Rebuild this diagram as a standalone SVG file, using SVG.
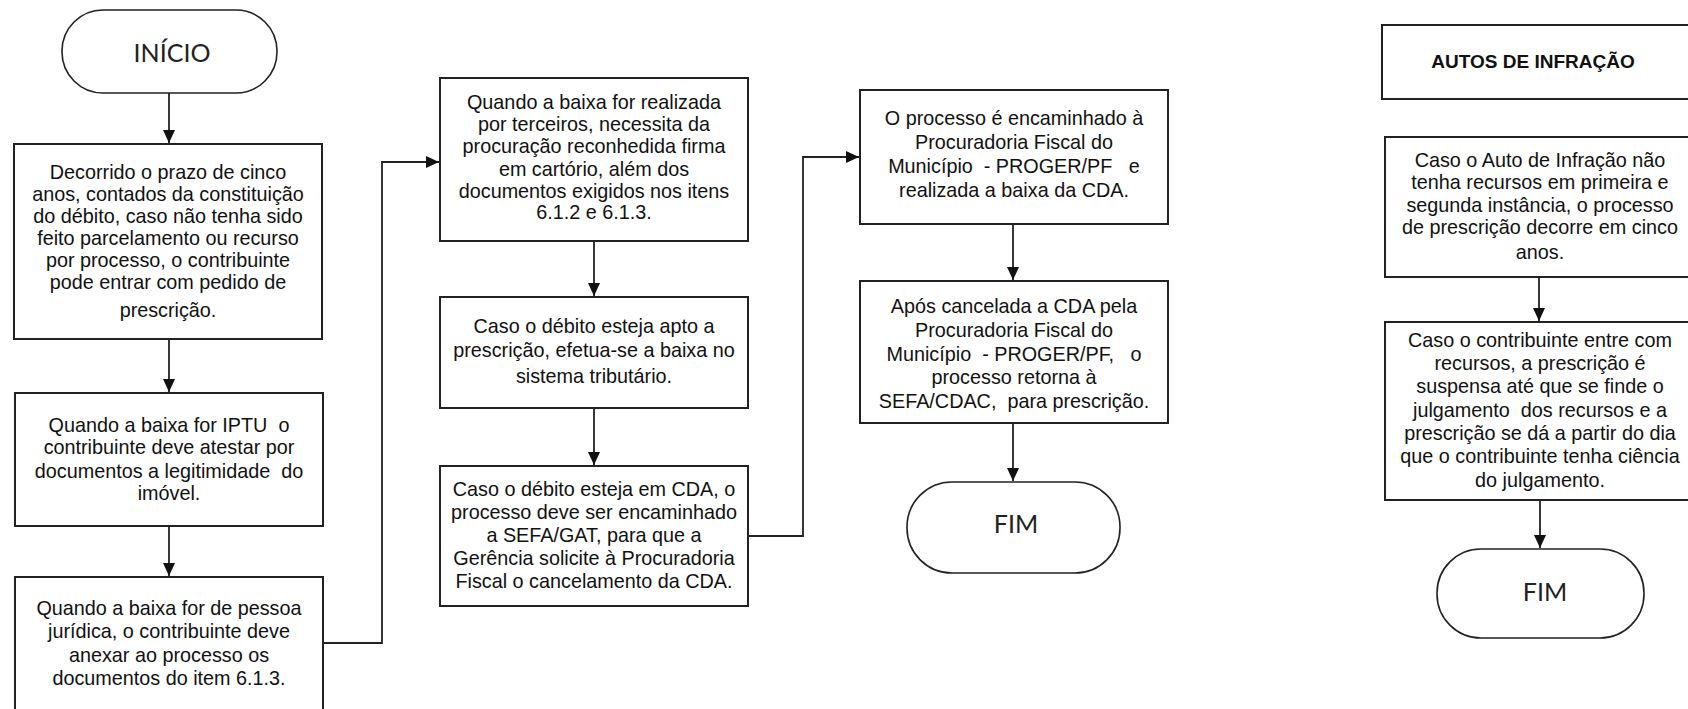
<svg xmlns="http://www.w3.org/2000/svg" width="1688" height="709" viewBox="0 0 1688 709">
<style>
.box{fill:#fff;stroke:#222;stroke-width:2}
.term{fill:#fff;stroke:#222;stroke-width:1.6}
.t{font-family:"Liberation Sans",Arial,sans-serif;font-size:19.8px;fill:#111;text-anchor:middle;white-space:pre}
.tt{font-family:Lato,"Liberation Sans",sans-serif;font-size:25px;fill:#222;text-anchor:middle}
.tb{font-family:"Liberation Sans",Arial,sans-serif;font-size:19px;font-weight:bold;fill:#111;text-anchor:middle}
.c{fill:none;stroke:#222;stroke-width:1.8}
</style>
<defs>
<marker id="ah" markerUnits="userSpaceOnUse" markerWidth="14" markerHeight="14" viewBox="0 0 14 14" refX="13" refY="7" orient="auto">
<path d="M0,1 L13,7 L0,13 Z" fill="#111"/>
</marker>
</defs>
<g id="connectors">
<path class="c" d="M169,93 V143" marker-end="url(#ah)"/>
<path class="c" d="M169,339 V392" marker-end="url(#ah)"/>
<path class="c" d="M169,526 V576" marker-end="url(#ah)"/>
<path class="c" d="M323,643 H382 V162 H439" marker-end="url(#ah)"/>
<path class="c" d="M594,241 V296" marker-end="url(#ah)"/>
<path class="c" d="M594,408 V465" marker-end="url(#ah)"/>
<path class="c" d="M748,536 H803 V157 H859" marker-end="url(#ah)"/>
<path class="c" d="M1013,224 V280" marker-end="url(#ah)"/>
<path class="c" d="M1013,423 V481" marker-end="url(#ah)"/>
<path class="c" d="M1539,277 V321" marker-end="url(#ah)"/>
<path class="c" d="M1540,500 V548" marker-end="url(#ah)"/>
</g>
<g id="inicio">
<rect class="term" x="62" y="10" width="215" height="83" rx="41" ry="41"/>
<text class="tt" x="172" y="62">INÍCIO</text>
</g>
<g id="box1">
<rect class="box" x="14" y="144" width="308" height="195"/>
<text class="t" x="168" y="179">Decorrido o prazo de cinco</text>
<text class="t" x="168" y="201">anos, contados da constituição</text>
<text class="t" x="168" y="223">do débito, caso não tenha sido</text>
<text class="t" x="168" y="245">feito parcelamento ou recurso</text>
<text class="t" x="168" y="267">por processo, o contribuinte</text>
<text class="t" x="168" y="289">pode entrar com pedido de</text>
<text class="t" x="168" y="317">prescrição.</text>
</g>
<g id="box2">
<rect class="box" x="15" y="393" width="308" height="133"/>
<text class="t" x="169" y="432">Quando a baixa for IPTU  o</text>
<text class="t" x="169" y="454">contribuinte deve atestar por</text>
<text class="t" x="169" y="478">documentos a legitimidade  do</text>
<text class="t" x="169" y="500">imóvel.</text>
</g>
<g id="box3">
<rect class="box" x="15" y="577" width="308" height="140"/>
<text class="t" x="169" y="615">Quando a baixa for de pessoa</text>
<text class="t" x="169" y="638">jurídica, o contribuinte deve</text>
<text class="t" x="169" y="662">anexar ao processo os</text>
<text class="t" x="169" y="685">documentos do item 6.1.3.</text>
</g>
<g id="box4">
<rect class="box" x="440" y="78" width="308" height="163"/>
<text class="t" x="594" y="109">Quando a baixa for realizada</text>
<text class="t" x="594" y="131">por terceiros, necessita da</text>
<text class="t" x="594" y="153">procuração reconhedida firma</text>
<text class="t" x="594" y="176">em cartório, além dos</text>
<text class="t" x="594" y="198">documentos exigidos nos itens</text>
<text class="t" x="594" y="219">6.1.2 e 6.1.3.</text>
</g>
<g id="box5">
<rect class="box" x="440" y="297" width="308" height="111"/>
<text class="t" x="594" y="333">Caso o débito esteja apto a</text>
<text class="t" x="594" y="357">prescrição, efetua-se a baixa no</text>
<text class="t" x="594" y="383">sistema tributário.</text>
</g>
<g id="box6">
<rect class="box" x="440" y="466" width="308" height="140"/>
<text class="t" x="594" y="496">Caso o débito esteja em CDA, o</text>
<text class="t" x="594" y="519">processo deve ser encaminhado</text>
<text class="t" x="594" y="542">a SEFA/GAT, para que a</text>
<text class="t" x="594" y="565">Gerência solicite à Procuradoria</text>
<text class="t" x="594" y="588">Fiscal o cancelamento da CDA.</text>
</g>
<g id="box7">
<rect class="box" x="860" y="90" width="308" height="134"/>
<text class="t" x="1014" y="125">O processo é encaminhado à</text>
<text class="t" x="1014" y="149">Procuradoria Fiscal do</text>
<text class="t" x="1014" y="173">Município  - PROGER/PF   e</text>
<text class="t" x="1014" y="197">realizada a baixa da CDA.</text>
</g>
<g id="box8">
<rect class="box" x="860" y="281" width="308" height="142"/>
<text class="t" x="1014" y="313">Após cancelada a CDA pela</text>
<text class="t" x="1014" y="337">Procuradoria Fiscal do</text>
<text class="t" x="1014" y="361">Município  - PROGER/PF,   o</text>
<text class="t" x="1014" y="384">processo retorna à</text>
<text class="t" x="1014" y="408">SEFA/CDAC,  para prescrição.</text>
</g>
<g id="fim1">
<rect class="term" x="907" y="482" width="213" height="91" rx="45" ry="45"/>
<text class="tt" x="1016" y="533">FIM</text>
</g>
<g id="autos">
<rect class="box" x="1382" y="25" width="320" height="74"/>
<text class="tb" x="1533" y="68">AUTOS DE INFRAÇÃO</text>
</g>
<g id="boxR1">
<rect class="box" x="1385" y="137" width="320" height="140"/>
<text class="t" x="1540" y="167">Caso o Auto de Infração não</text>
<text class="t" x="1540" y="189">tenha recursos em primeira e</text>
<text class="t" x="1540" y="212">segunda instância, o processo</text>
<text class="t" x="1540" y="234">de prescrição decorre em cinco</text>
<text class="t" x="1540" y="259">anos.</text>
</g>
<g id="boxR2">
<rect class="box" x="1385" y="322" width="320" height="178"/>
<text class="t" x="1540" y="347">Caso o contribuinte entre com</text>
<text class="t" x="1540" y="370">recursos, a prescrição é</text>
<text class="t" x="1540" y="393">suspensa até que se finde o</text>
<text class="t" x="1540" y="417">julgamento  dos recursos e a</text>
<text class="t" x="1540" y="440">prescrição se dá a partir do dia</text>
<text class="t" x="1540" y="463">que o contribuinte tenha ciência</text>
<text class="t" x="1540" y="487">do julgamento.</text>
</g>
<g id="fim2">
<rect class="term" x="1437" y="549" width="207" height="89" rx="44" ry="44"/>
<text class="tt" x="1545" y="601">FIM</text>
</g>
</svg>
